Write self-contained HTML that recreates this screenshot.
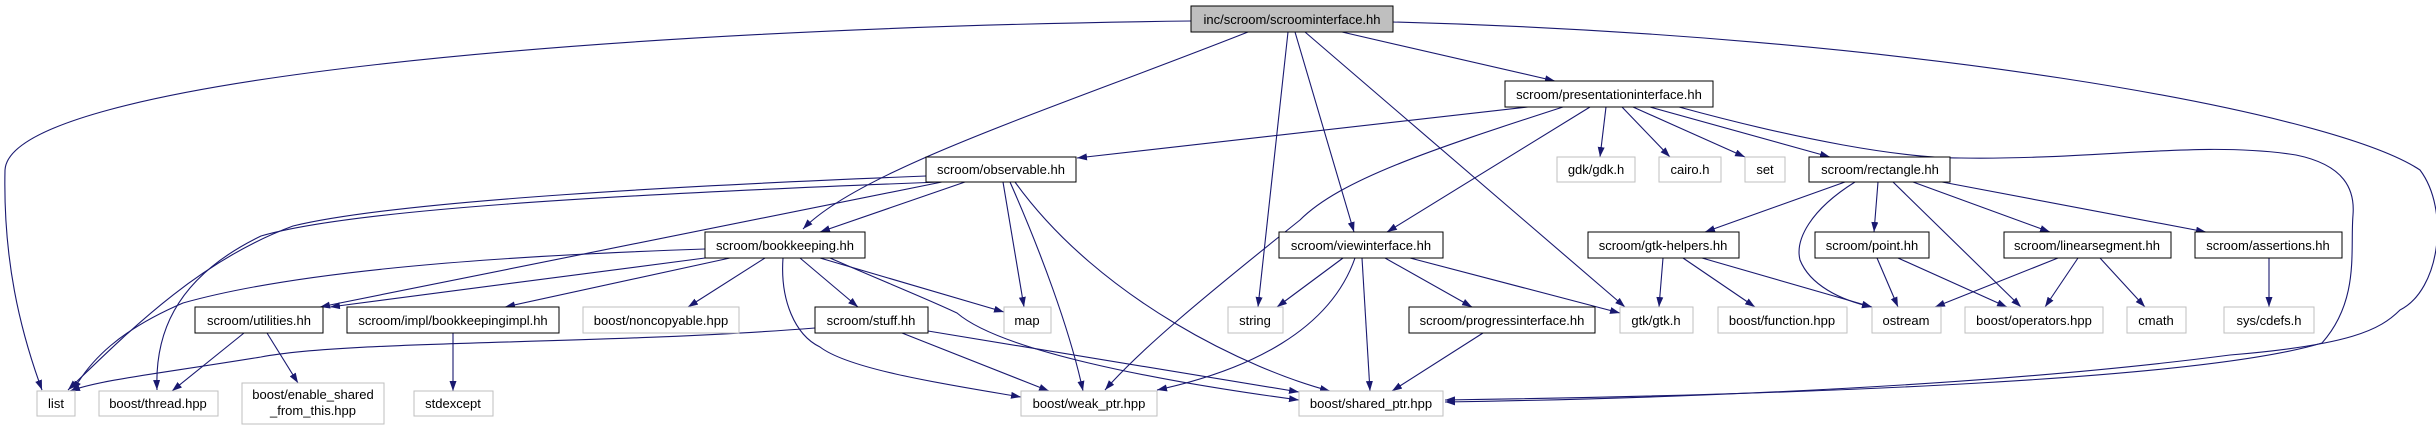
<!DOCTYPE html>
<html><head><meta charset="utf-8"><style>
html,body{margin:0;padding:0;background:#fff;}
svg{display:block;}
text{font-family:"Liberation Sans",sans-serif;font-size:13px;fill:#000;}
.e{fill:none;stroke:#191970;stroke-width:1.1;}
.nb{fill:#fff;stroke:#000;stroke-width:1;}
.ng{fill:#fff;stroke:#bfbfbf;stroke-width:1;}
</style></head><body>
<svg width="2436" height="427" viewBox="0 0 2436 427" xmlns="http://www.w3.org/2000/svg">
<defs><marker id="a" markerUnits="userSpaceOnUse" markerWidth="11" markerHeight="8" refX="10" refY="3.5" orient="auto"><path d="M0,0 L10,3.5 L0,7 z" fill="#191970"/></marker></defs>
<g marker-end="url(#a)">
<path class="e" d="M1191,21 C600,28 10,80 5,170 C3,260 20,330 42,390"/>
<path class="e" d="M1248,32 C1050,110 860,170 803,229"/>
<path class="e" d="M1288,32 L1258,307"/>
<path class="e" d="M1295,32 L1354,232"/>
<path class="e" d="M1305,32 L1625,307"/>
<path class="e" d="M1342,32 L1555,81"/>
<path class="e" d="M1393,22 C1900,35 2330,110 2420,170 C2450,210 2440,290 2400,310 C2380,330 2350,345 2230,355 C2000,385 1700,398 1445,402"/>
<path class="e" d="M1528,107 L1077,158"/>
<path class="e" d="M1563,107 C1430,150 1340,180 1300,220 C1200,300 1140,350 1105,390"/>
<path class="e" d="M1590,107 L1387,232"/>
<path class="e" d="M1606,107 L1600,157"/>
<path class="e" d="M1622,107 L1670,157"/>
<path class="e" d="M1633,107 L1745,157"/>
<path class="e" d="M1650,107 L1830,157"/>
<path class="e" d="M1679,107 C1800,140 1900,158 1961,158 C2100,160 2200,140 2296,155 C2345,165 2355,190 2353,215 C2350,250 2360,300 2322,343 C2200,380 1800,395 1445,400"/>
<path class="e" d="M926,176 C700,185 400,200 293,226 C200,260 130,330 68,390"/>
<path class="e" d="M940,182 C600,195 350,210 261,236 C170,280 155,340 157,390"/>
<path class="e" d="M942,182 L320,307"/>
<path class="e" d="M965,182 L820,232"/>
<path class="e" d="M1003,182 L1024,307"/>
<path class="e" d="M1010,182 C1040,250 1070,330 1083,391"/>
<path class="e" d="M1015,182 C1100,300 1250,370 1330,391"/>
<path class="e" d="M705,249 C500,256 300,270 183,303 C120,330 90,360 73,391"/>
<path class="e" d="M705,258 L330,307"/>
<path class="e" d="M730,258 L505,307"/>
<path class="e" d="M765,258 L688,307"/>
<path class="e" d="M800,258 L858,307"/>
<path class="e" d="M820,258 L1004,312"/>
<path class="e" d="M783,258 C780,300 795,335 820,347 C850,370 950,385 1021,397"/>
<path class="e" d="M830,258 C880,280 930,300 957,313 C1000,350 1150,380 1299,400"/>
<path class="e" d="M244,333 L172,391"/>
<path class="e" d="M267,333 L298,383"/>
<path class="e" d="M453,333 L453,391"/>
<path class="e" d="M815,328 C600,345 350,340 261,357 C150,375 100,380 70,391"/>
<path class="e" d="M902,333 L1049,391"/>
<path class="e" d="M928,331 L1299,392"/>
<path class="e" d="M1343,258 L1277,307"/>
<path class="e" d="M1355,258 C1330,330 1250,370 1157,390"/>
<path class="e" d="M1362,258 L1370,391"/>
<path class="e" d="M1385,258 L1472,307"/>
<path class="e" d="M1410,258 L1620,313"/>
<path class="e" d="M1483,333 L1392,391"/>
<path class="e" d="M1845,182 L1705,232"/>
<path class="e" d="M1855,182 C1810,210 1795,240 1800,260 C1810,285 1840,300 1872,307"/>
<path class="e" d="M1878,182 L1874,232"/>
<path class="e" d="M1893,182 L2021,307"/>
<path class="e" d="M1913,182 L2050,232"/>
<path class="e" d="M1942,182 L2206,232"/>
<path class="e" d="M1663,258 L1659,307"/>
<path class="e" d="M1683,258 L1755,307"/>
<path class="e" d="M1702,258 L1872,307"/>
<path class="e" d="M1877,258 L1898,307"/>
<path class="e" d="M1898,258 L2007,307"/>
<path class="e" d="M2058,258 L1935,307"/>
<path class="e" d="M2078,258 L2045,307"/>
<path class="e" d="M2100,258 L2145,307"/>
<path class="e" d="M2269,258 L2269,307"/>
</g>
<g text-anchor="middle">
<rect x="1191" y="6" width="202" height="26" fill="#bfbfbf" stroke="#000"/><text x="1292" y="24">inc/scroom/scroominterface.hh</text>
<rect class="nb" x="1505" y="81" width="208" height="26"/><text x="1609" y="99">scroom/presentationinterface.hh</text>
<rect class="nb" x="926" y="157" width="150" height="25"/><text x="1001" y="174">scroom/observable.hh</text>
<rect class="ng" x="1557" y="157" width="78" height="25"/><text x="1596" y="174" fill="#000">gdk/gdk.h</text>
<rect class="ng" x="1659" y="157" width="62" height="25"/><text x="1690" y="174">cairo.h</text>
<rect class="ng" x="1745" y="157" width="40" height="25"/><text x="1765" y="174">set</text>
<rect class="nb" x="1809" y="157" width="141" height="25"/><text x="1880" y="174">scroom/rectangle.hh</text>
<rect class="nb" x="705" y="232" width="160" height="26"/><text x="785" y="250">scroom/bookkeeping.hh</text>
<rect class="nb" x="1279" y="232" width="164" height="26"/><text x="1361" y="250">scroom/viewinterface.hh</text>
<rect class="nb" x="1588" y="232" width="151" height="26"/><text x="1663" y="250">scroom/gtk-helpers.hh</text>
<rect class="nb" x="1815" y="232" width="114" height="26"/><text x="1872" y="250">scroom/point.hh</text>
<rect class="nb" x="2004" y="232" width="167" height="26"/><text x="2087" y="250">scroom/linearsegment.hh</text>
<rect class="nb" x="2195" y="232" width="147" height="26"/><text x="2268" y="250">scroom/assertions.hh</text>
<rect class="nb" x="195" y="307" width="128" height="26"/><text x="259" y="325">scroom/utilities.hh</text>
<rect class="nb" x="347" y="307" width="212" height="26"/><text x="453" y="325">scroom/impl/bookkeepingimpl.hh</text>
<rect class="ng" x="583" y="307" width="156" height="26"/><text x="661" y="325">boost/noncopyable.hpp</text>
<rect class="nb" x="815" y="307" width="113" height="26"/><text x="871" y="325">scroom/stuff.hh</text>
<rect class="ng" x="1004" y="307" width="47" height="26"/><text x="1027" y="325">map</text>
<rect class="ng" x="1228" y="307" width="55" height="26"/><text x="1255" y="325">string</text>
<rect class="nb" x="1409" y="307" width="186" height="26"/><text x="1502" y="325">scroom/progressinterface.hh</text>
<rect class="ng" x="1620" y="307" width="73" height="26"/><text x="1656" y="325">gtk/gtk.h</text>
<rect class="ng" x="1718" y="307" width="129" height="26"/><text x="1782" y="325">boost/function.hpp</text>
<rect class="ng" x="1872" y="307" width="69" height="26"/><text x="1906" y="325">ostream</text>
<rect class="ng" x="1965" y="307" width="138" height="26"/><text x="2034" y="325">boost/operators.hpp</text>
<rect class="ng" x="2127" y="307" width="59" height="26"/><text x="2156" y="325">cmath</text>
<rect class="ng" x="2224" y="307" width="90" height="26"/><text x="2269" y="325">sys/cdefs.h</text>
<rect class="ng" x="37" y="391" width="38" height="25"/><text x="56" y="408">list</text>
<rect class="ng" x="99" y="391" width="119" height="25"/><text x="158" y="408">boost/thread.hpp</text>
<rect class="ng" x="242" y="383" width="142" height="41"/><text x="313" y="399">boost/enable_shared</text><text x="313" y="415">_from_this.hpp</text>
<rect class="ng" x="414" y="391" width="79" height="25"/><text x="453" y="408">stdexcept</text>
<rect class="ng" x="1021" y="391" width="136" height="25"/><text x="1089" y="408">boost/weak_ptr.hpp</text>
<rect class="ng" x="1299" y="391" width="144" height="25"/><text x="1371" y="408">boost/shared_ptr.hpp</text>
</g>
</svg>
</body></html>
